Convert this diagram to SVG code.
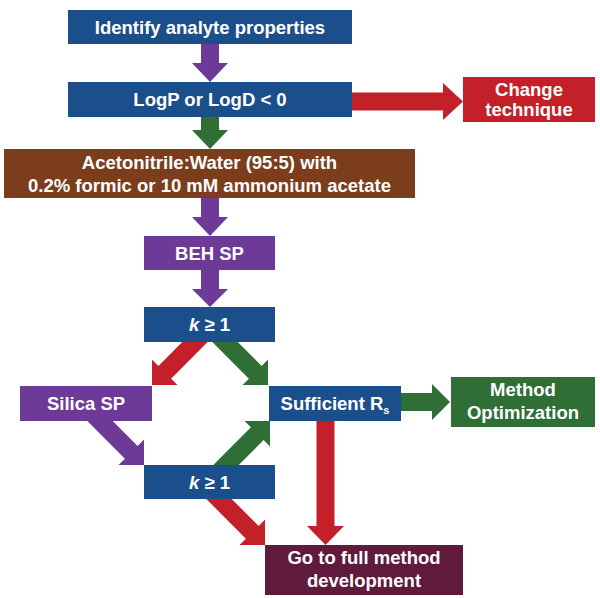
<svg xmlns="http://www.w3.org/2000/svg" width="600" height="598" viewBox="0 0 600 598">
<defs>
<style>
.t{font-family:"Liberation Sans",Arial,sans-serif;font-weight:bold;font-size:18.5px;fill:#ffffff;text-anchor:middle}
.blue{fill:#1b4f8b}.red{fill:#c4202a}.green{fill:#2f6e35}.purple{fill:#6e3a98}.brown{fill:#7c3d1d}.maroon{fill:#5f1a3c}
</style>
<polygon id="diag" points="-80,-9 -18,-9 -18,-18 0,0 -18,18 -18,9 -80,9"/>
</defs>
<rect width="600" height="598" fill="#ffffff"/>
<g id="connectors">
<polygon class="purple" points="201,40 219,40 219,63 228,63 210,82 192,63 201,63"/>
<polygon class="green" points="201,112 219,112 219,130 228,130 210,149 192,130 201,130"/>
<polygon class="purple" points="201,194 219,194 219,217 228,217 210,236 192,217 201,217"/>
<polygon class="purple" points="201,266 219,266 219,289 228,289 210,307 192,289 201,289"/>
<polygon class="red" points="348,92.5 443,92.5 443,83 463,101.5 443,120 443,110.5 348,110.5"/>
<polygon class="green" points="396,393 432,393 432,384 450,402 432,420 432,411 396,411"/>
<polygon class="red" points="316.5,416 334.5,416 334.5,526 344,526 325.5,545 307,526 316.5,526"/>
<use href="#diag" class="red" transform="translate(152,385) rotate(135)"/>
<use href="#diag" class="green" transform="translate(268,385) rotate(45)"/>
<use href="#diag" class="purple" transform="translate(144,465) rotate(45)"/>
<use href="#diag" class="green" transform="translate(270,421) rotate(-45)"/>
<use href="#diag" class="red" transform="translate(265,545) rotate(45)"/>
</g>
<g id="identify"><rect class="blue" x="68" y="10" width="284" height="34"/><text class="t" x="210" y="34">Identify analyte properties</text></g>
<g id="logp"><rect class="blue" x="68" y="82" width="284" height="35"/><text class="t" x="210" y="106">LogP or LogD &lt; 0</text></g>
<g id="change"><rect class="red" x="463" y="77" width="132" height="45"/><text class="t" x="529" y="96">Change</text><text class="t" x="529" y="116">technique</text></g>
<g id="solvent"><rect class="brown" x="4" y="149" width="411" height="49"/><text class="t" x="209.5" y="168.5">Acetonitrile:Water (95:5) with</text><text class="t" x="209.5" y="191.5">0.2% formic or 10 mM ammonium acetate</text></g>
<g id="beh"><rect class="purple" x="144" y="236" width="131" height="34"/><text class="t" x="209.5" y="260">BEH SP</text></g>
<g id="k1"><rect class="blue" x="144" y="307" width="131" height="35"/><text class="t" x="209.5" y="331"><tspan font-style="italic">k</tspan> ≥ 1</text></g>
<g id="silica"><rect class="purple" x="20" y="386" width="132" height="35"/><text class="t" x="86" y="410">Silica SP</text></g>
<g id="sufficient"><rect class="blue" x="269" y="386" width="132" height="35"/><text class="t" x="335" y="410">Sufficient R<tspan font-size="11" dy="4">s</tspan></text></g>
<g id="method"><rect class="green" x="451" y="377" width="144" height="50"/><text class="t" x="523" y="396">Method</text><text class="t" x="523" y="418.5">Optimization</text></g>
<g id="k2"><rect class="blue" x="144" y="465" width="131" height="34"/><text class="t" x="209.5" y="489"><tspan font-style="italic">k</tspan> ≥ 1</text></g>
<g id="goto"><rect class="maroon" x="265" y="545" width="198" height="50"/><text class="t" x="364" y="564">Go to full method</text><text class="t" x="364" y="586.5">development</text></g>
</svg>
